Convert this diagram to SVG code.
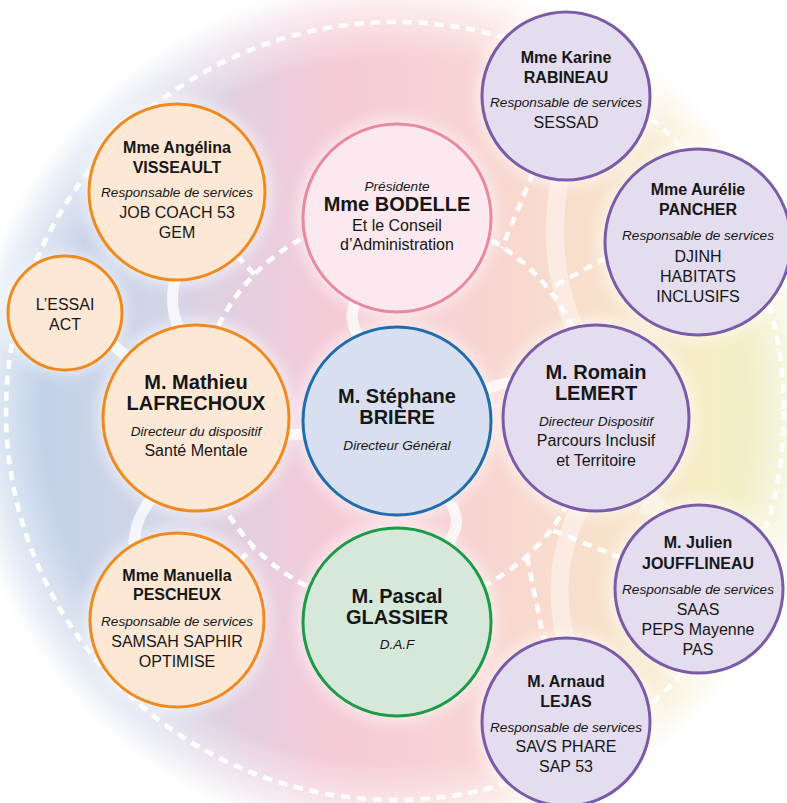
<svg xmlns="http://www.w3.org/2000/svg" width="787" height="803" viewBox="0 0 787 803">
<defs>
<linearGradient id="bgLin" x1="0" y1="0" x2="1" y2="0">
<stop offset="0" stop-color="#b8cfe8"/>
<stop offset="0.22" stop-color="#d0d5e8"/>
<stop offset="0.42" stop-color="#f5cbd8"/>
<stop offset="0.58" stop-color="#f8d3d3"/>
<stop offset="0.72" stop-color="#f8e0cc"/>
<stop offset="0.86" stop-color="#f6eec6"/>
<stop offset="1" stop-color="#e6f0cc"/>
</linearGradient>
<radialGradient id="fade" cx="0.5" cy="0.5" r="0.5">
<stop offset="0.8" stop-color="#ffffff" stop-opacity="0"/>
<stop offset="0.91" stop-color="#ffffff" stop-opacity="0.55"/>
<stop offset="0.98" stop-color="#ffffff" stop-opacity="1"/>
</radialGradient>
<filter id="glow" x="-30%" y="-30%" width="160%" height="160%">
<feGaussianBlur stdDeviation="7"/>
</filter>
</defs>
<style>
text{font-family:"Liberation Sans",Arial,Helvetica,sans-serif;fill:#161616;text-anchor:middle}
.b{font-weight:bold;font-size:16px}
.B{font-weight:bold;font-size:20px}
.i{font-style:italic;font-size:13.6px}
.t{font-size:16px}
.orange{fill:#fde8d6;stroke:#ef8a1e;stroke-width:3}
.purple{fill:#e3ddef;stroke:#7a5ba7;stroke-width:3}
.pink{fill:#fce9ef;stroke:#e8899f;stroke-width:3}
.blue{fill:#d8dff1;stroke:#1f6dad;stroke-width:3}
.green{fill:#d6e8da;stroke:#1b9a47;stroke-width:3}
.halo{fill:#ffffff;opacity:0.55;filter:url(#glow)}
.dash{fill:none;stroke:#ffffff;stroke-width:4.5;stroke-dasharray:9 7}
.band{fill:none;stroke:#ffffff;stroke-width:11;stroke-opacity:0.75;stroke-linecap:round}
.pale{fill:none;stroke:#ffffff;stroke-width:18;stroke-opacity:0.4}
</style>
<rect width="787" height="803" fill="#ffffff"/>
<circle cx="395" cy="411" r="440" fill="url(#bgLin)"/>
<circle cx="395" cy="411" r="441" fill="url(#fade)"/>

<g id="connectors">
<circle class="dash" cx="395" cy="411" r="389"/>
<circle class="dash" cx="395" cy="411" r="196"/>
<path class="pale" d="M560,178 Q545,260 575,330"/>
<path class="pale" d="M580,508 Q548,570 566,640"/>
<path class="pale" d="M660,496 Q650,505 648,515"/>
<path class="band" d="M357,300 Q346,318 360,338"/>
<path class="band" d="M283,435 L310,434"/>
<path class="band" d="M484,391 Q495,384 510,383"/>
<path class="band" d="M452,506 Q462,522 450,540"/>
<path class="band" d="M178,272 Q166,300 180,332"/>
<path class="band" d="M110,342 L133,362"/>
<path class="band" d="M154,496 Q136,515 134,542"/>
<path class="dash" d="M237,256 L256,276"/>
<path class="dash" d="M533,173 L502,248"/>
<path class="dash" d="M606,258 L550,288"/>
<path class="dash" d="M621,558 L552,530"/>
<path class="dash" d="M527,557 L544,640"/>
<path class="dash" d="M240,560 L254,547"/>
</g>

<g id="halos">
<circle class="halo" cx="397" cy="218" r="100"/>
<circle class="halo" cx="397" cy="421" r="100"/>
<circle class="halo" cx="397" cy="622" r="100"/>
<circle class="halo" cx="196" cy="418" r="99"/>
<circle class="halo" cx="596" cy="418" r="99"/>
<circle class="halo" cx="177" cy="192" r="94"/>
<circle class="halo" cx="65" cy="313" r="62"/>
<circle class="halo" cx="566" cy="96" r="90"/>
<circle class="halo" cx="698" cy="242" r="99"/>
<circle class="halo" cx="699" cy="589" r="90"/>
<circle class="halo" cx="566" cy="722" r="90"/>
<circle class="halo" cx="177" cy="620" r="93"/>
</g>

<g id="bodelle">
<circle class="pink" cx="397" cy="218" r="94"/>
<text class="i" x="397" y="191">Présidente</text>
<text class="B" x="397" y="211">Mme BODELLE</text>
<text class="t" x="397" y="231">Et le Conseil</text>
<text class="t" x="397" y="250">d’Administration</text>
</g>

<g id="briere">
<circle class="blue" cx="397" cy="421" r="94"/>
<text class="B" x="397" y="403">M. Stéphane</text>
<text class="B" x="397" y="424">BRIÈRE</text>
<text class="i" x="397" y="450">Directeur Général</text>
</g>

<g id="glassier">
<circle class="green" cx="397" cy="622" r="94"/>
<text class="B" x="397" y="603">M. Pascal</text>
<text class="B" x="397" y="624">GLASSIER</text>
<text class="i" x="397" y="649">D.A.F</text>
</g>

<g id="lafrechoux">
<circle class="orange" cx="196" cy="418" r="93"/>
<text class="B" x="196" y="389">M. Mathieu</text>
<text class="B" x="196" y="410">LAFRECHOUX</text>
<text class="i" x="196" y="436">Directeur du dispositif</text>
<text class="t" x="196" y="456">Santé Mentale</text>
</g>

<g id="lemert">
<circle class="purple" cx="596" cy="418" r="93"/>
<text class="B" x="596" y="379">M. Romain</text>
<text class="B" x="596" y="400">LEMERT</text>
<text class="i" x="596" y="426">Directeur Dispositif</text>
<text class="t" x="596" y="446">Parcours Inclusif</text>
<text class="t" x="596" y="466">et Territoire</text>
</g>

<g id="visseault">
<circle class="orange" cx="177" cy="192" r="88"/>
<text class="b" x="177" y="153">Mme Angélina</text>
<text class="b" x="177" y="173">VISSEAULT</text>
<text class="i" x="177" y="197">Responsable de services</text>
<text class="t" x="177" y="218">JOB COACH 53</text>
<text class="t" x="177" y="238">GEM</text>
</g>

<g id="essai">
<circle class="orange" cx="65" cy="313" r="57"/>
<text class="t" x="65" y="310">L’ESSAI</text>
<text class="t" x="65" y="330">ACT</text>
</g>

<g id="rabineau">
<circle class="purple" cx="566" cy="96" r="84"/>
<text class="b" x="566" y="63">Mme Karine</text>
<text class="b" x="566" y="83">RABINEAU</text>
<text class="i" x="566" y="107">Responsable de services</text>
<text class="t" x="566" y="128">SESSAD</text>
</g>

<g id="pancher">
<circle class="purple" cx="698" cy="242" r="93"/>
<text class="b" x="698" y="195">Mme Aurélie</text>
<text class="b" x="698" y="215">PANCHER</text>
<text class="i" x="698" y="240">Responsable de services</text>
<text class="t" x="698" y="262">DJINH</text>
<text class="t" x="698" y="282">HABITATS</text>
<text class="t" x="698" y="302">INCLUSIFS</text>
</g>

<g id="jouflineau">
<circle class="purple" cx="699" cy="589" r="84"/>
<text class="b" x="698" y="548">M. Julien</text>
<text class="b" x="698" y="569">JOUFFLINEAU</text>
<text class="i" x="698" y="594">Responsable de services</text>
<text class="t" x="698" y="615">SAAS</text>
<text class="t" x="698" y="635">PEPS Mayenne</text>
<text class="t" x="698" y="655">PAS</text>
</g>

<g id="lejas">
<circle class="purple" cx="566" cy="722" r="84"/>
<text class="b" x="566" y="687">M. Arnaud</text>
<text class="b" x="566" y="707">LEJAS</text>
<text class="i" x="566" y="732">Responsable de services</text>
<text class="t" x="566" y="752">SAVS PHARE</text>
<text class="t" x="566" y="772">SAP 53</text>
</g>

<g id="pescheux">
<circle class="orange" cx="177" cy="620" r="87"/>
<text class="b" x="177" y="581">Mme Manuella</text>
<text class="b" x="177" y="600">PESCHEUX</text>
<text class="i" x="177" y="626">Responsable de services</text>
<text class="t" x="177" y="647">SAMSAH SAPHIR</text>
<text class="t" x="177" y="667">OPTIMISE</text>
</g>
</svg>
